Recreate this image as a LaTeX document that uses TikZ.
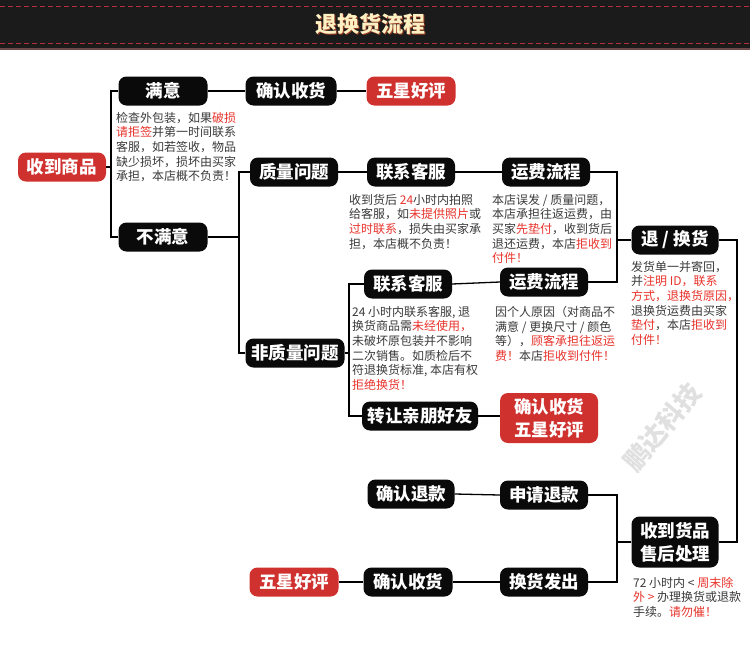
\documentclass[tikz,border=0pt]{standalone}
\usepackage{fontspec}
\setmainfont{Noto Sans CJK SC}
\usetikzlibrary{calc}
\definecolor{boxblack}{HTML}{0A0A0A}
\definecolor{boxred}{HTML}{CF312E}
\definecolor{txtred}{HTML}{E8332B}
\definecolor{txtgray}{HTML}{3A3A3A}
\definecolor{headbg}{HTML}{1B1B1B}
\definecolor{headedge}{HTML}{6E4A48}
\definecolor{dashred}{HTML}{B3303C}
\definecolor{titlecol}{HTML}{FDF0C2}
\definecolor{titleshadow}{HTML}{9A3A24}
\newcommand\redt[1]{\textcolor{txtred}{#1}}
\tikzset{
  bb/.style={fill=boxblack, text=white, rounded corners=8pt, inner sep=0pt,
    font=\bfseries\fontsize{17.5}{21}\selectfont, minimum height=29pt},
  rb/.style={bb, fill=boxred},
  desc/.style={anchor=north west, align=left, inner sep=0pt, text=txtgray,
    font=\fontsize{12}{14.6}\selectfont},
  ln/.style={draw=black, line width=1.3pt}
}
\begin{document}
\begin{tikzpicture}[x=1pt,y=-1pt]
\useasboundingbox (0,0) rectangle (750,654);
\fill[white] (0,0) rectangle (750,654);
% header
\fill[headbg] (0,0) rectangle (750,48);
\fill[headedge] (0,48) rectangle (750,50);
\draw[dashred, line width=0.8pt, dash pattern=on 5pt off 3pt] (0,6) -- (750,6);
\draw[dashred, line width=0.8pt, dash pattern=on 5pt off 3pt] (0,43) -- (750,43);
\node[text=titleshadow, font=\bfseries\fontsize{22}{24}\selectfont] (titles) at (371.5,25.5) {退换货流程};
\node[text=titlecol, font=\bfseries\fontsize{22}{24}\selectfont] (title) at (370,24) {退换货流程};
% watermark
\node[text=black!12, rotate=50, font=\bfseries\fontsize{26}{28}\selectfont] (wm) at (662,427) {鹏达科技};
% nodes
\node[rb, minimum width=88pt] (recv) at (62,167) {收到商品};
\node[bb, minimum width=89pt] (sat) at (163,91) {满意};
\node[bb, minimum width=89pt] (unsat) at (163,237) {不满意};
\node[bb, minimum width=91pt] (conf1) at (291,91) {确认收货};
\node[rb, minimum width=89pt] (star1) at (411,91) {五星好评};
\node[bb, minimum width=88pt] (qual) at (294,172) {质量问题};
\node[bb, minimum width=99pt] (nonq) at (295,353) {非质量问题};
\node[bb, minimum width=88pt] (cs1) at (411,172) {联系客服};
\node[bb, minimum width=88pt] (fee1) at (546,172) {运费流程};
\node[bb, minimum width=87pt] (ret) at (675,240) {退 / 换货};
\node[bb, minimum width=88pt] (cs2) at (408,284) {联系客服};
\node[bb, minimum width=88pt] (fee2) at (544,282) {运费流程};
\node[bb, minimum width=116pt] (gift) at (420,416) {转让亲朋好友};
\node[rb, minimum width=98pt, minimum height=50pt, align=center, font=\bfseries\fontsize{17.5}{23}\selectfont] (conf2) at (549,418) {确认收货\\五星好评};
\node[bb, minimum width=88pt] (apply) at (544,495) {申请退款};
\node[bb, minimum width=88pt] (ship) at (544,582) {换货发出};
\node[bb, minimum width=87pt, minimum height=51pt, align=center, font=\bfseries\fontsize{17.5}{23}\selectfont] (proc) at (675,542) {收到货品\\售后处理};
\node[bb, minimum width=87pt] (confr) at (411,494) {确认退款};
\node[bb, minimum width=89pt] (conf3) at (408,582) {确认收货};
\node[rb, minimum width=89pt] (star3) at (294,582) {五星好评};
% descriptions
\node[desc] (d1) at (116,112) {检查外包装，如果\redt{破损}\\\redt{请拒签}并第一时间联系\\客服，如若签收，物品\\缺少损坏，损坏由买家\\承担，本店概不负责！};
\node[desc] (d2) at (349,194) {收到货后 \redt{24}小时内拍照\\给客服，如\redt{未提供照片}或\\\redt{过时联系}，损失由买家承\\担，本店概不负责！};
\node[desc] (d3) at (492,194) {本店误发 / 质量问题，\\本店承担往返运费，由\\买家\redt{先垫付}，收到货后\\退还运费，本店\redt{拒收到}\\\redt{付件！}};
\node[desc] (d4) at (631,261) {发货单一并寄回，\\并\redt{注明 ID，联系}\\\redt{方式，退换货原因，}\\退换货运费由买家\\\redt{垫付}，本店\redt{拒收到}\\\redt{付件！}};
\node[desc] (d5) at (352,306) {24 小时内联系客服, 退\\换货商品需\redt{未经使用，}\\未破坏原包装并不影响\\二次销售。如质检后不\\符退换货标准, 本店有权\\\redt{拒绝换货！}};
\node[desc] (d6) at (495,306) {因个人原因（对商品不\\满意 / 更换尺寸 / 颜色\\等），\redt{顾客承担往返运}\\\redt{费！}本店\redt{拒收到付件！}};
\node[desc] (d7) at (633,577) {72 小时内 < \redt{周末除}\\\redt{外 >} 办理换货或退款\\手续。\redt{请勿催！}};
% junction x positions
\coordinate (ja) at (111,0);
\coordinate (jb) at (239,0);
\coordinate (jc) at (617,0);
\coordinate (jd) at (349,0);
\coordinate (je) at (737,0);
% connectors
\draw[ln] (recv.east) -- (recv.east -| ja);
\draw[ln] (sat.west) -- (sat.west -| ja) -- (unsat.west -| ja) -- (unsat.west);
\draw[ln] (sat.east) -- (conf1.west);
\draw[ln] (conf1.east) -- (star1.west);
\draw[ln] (unsat.east) -- (unsat.east -| jb);
\draw[ln] (qual.west) -- (qual.west -| jb) -- (nonq.west -| jb) -- (nonq.west);
\draw[ln] (qual.east) -- (cs1.west);
\draw[ln] (cs1.east) -- (fee1.west);
\draw[ln] (fee1.east) -- (fee1.east -| jc) -- (fee2.east -| jc) -- (fee2.east);
\draw[ln] (ret.west) -- (ret.west -| jc);
\draw[ln] (cs2.east) -- (fee2.west);
\draw[ln] (nonq.east) -- (nonq.east -| jd);
\draw[ln] (cs2.west) -- (cs2.west -| jd) -- (gift.west -| jd) -- (gift.west);
\draw[ln] (gift.east) -- (conf2.west |- gift.east);
\draw[ln] (ret.east) -- (ret.east -| je) -- (proc.east -| je) -- (proc.east);
\draw[ln] (apply.east) -- (apply.east -| jc) -- (ship.east -| jc) -- (ship.east);
\draw[ln] (proc.west) -- (proc.west -| jc);
\draw[ln] (apply.west) -- (confr.east);
\draw[ln] (ship.west) -- (conf3.east);
\draw[ln] (conf3.west) -- (star3.east);
\end{tikzpicture}
\end{document}
